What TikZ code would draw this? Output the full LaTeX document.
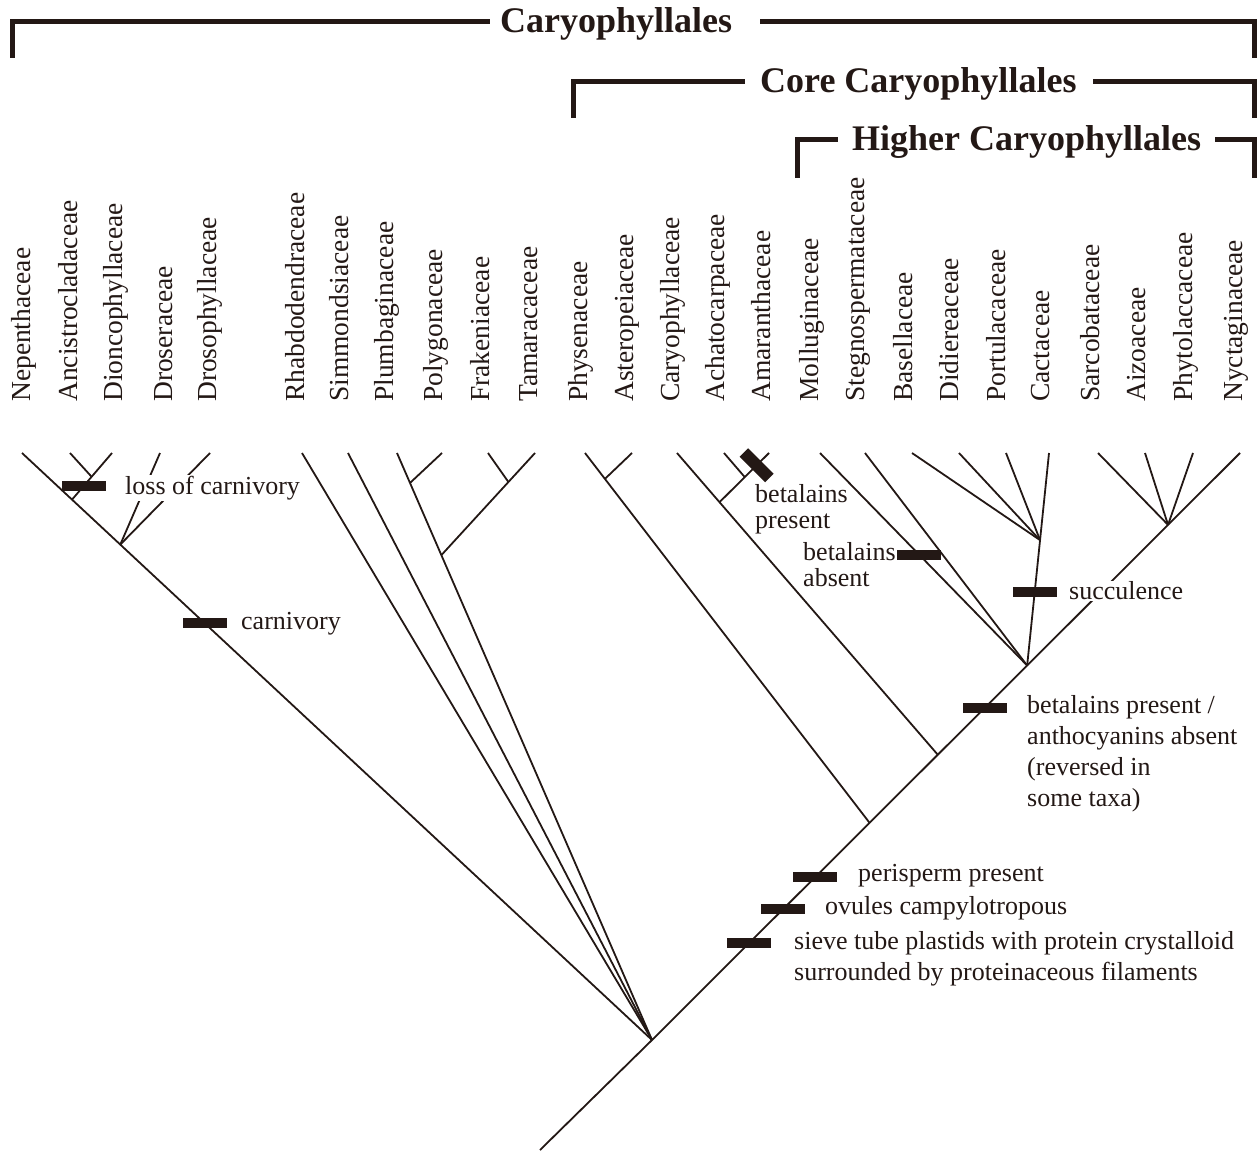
\documentclass[tikz,border=0pt]{standalone}
\usepackage{fontspec}
\setmainfont{Liberation Serif}
\usepackage{tikz}
\usetikzlibrary{calc}
\definecolor{ink}{HTML}{231815}
\tikzset{
  taxon/.style={rotate=90, anchor=mid west, inner sep=0pt, font=\fontsize{27.5}{30}\selectfont, text=ink},
  brn/.style={draw=ink, line width=1.8pt},
  chr/.style={fill=ink, minimum width=44pt, minimum height=10pt, inner sep=0pt},
  note/.style={font=\fontsize{26}{31}\selectfont, text=ink, align=left, inner sep=1pt},
  tight/.style={font=\fontsize{26}{26}\selectfont},
  clade/.style={font=\fontsize{36}{40}\selectfont\bfseries, text=ink, inner sep=0pt},
  brk/.style={draw=ink, line width=5pt},
}

\begin{document}
\begin{tikzpicture}[x=1pt, y=-1pt]
  \useasboundingbox (0,0) rectangle (1260,1155);
  % clade brackets
  \node[clade, anchor=base west] (tcar) at (500,33) {Caryophyllales};
  \node[clade, anchor=base west] (tcore) at (760,93) {Core Caryophyllales};
  \node[clade, anchor=base west] (thig) at (852,151) {Higher Caryophyllales};
  \coordinate (c1a) at (12,58);   \coordinate (c1b) at (490,22);
  \coordinate (c1c) at (760,22);  \coordinate (c1d) at (1254,58);
  \coordinate (c2a) at (573,118); \coordinate (c2b) at (745,82);
  \coordinate (c2c) at (1093,82); \coordinate (c2d) at (1254,118);
  \coordinate (c3a) at (797,178); \coordinate (c3b) at (838,140);
  \coordinate (c3c) at (1215,140);\coordinate (c3d) at (1254,178);
  \draw[brk] (c1a) |- (c1b);
  \draw[brk] (c1c) -| (c1d);
  \draw[brk] (c2a) |- (c2b);
  \draw[brk] (c2c) -| (c2d);
  \draw[brk] (c3a) |- (c3b);
  \draw[brk] (c3c) -| (c3d);
  % taxa
  \node[taxon] (lnep) at (28,402) {Nepenthaceae};
  \node[taxon] (lanc) at (75,402) {Ancistrocladaceae};
  \node[taxon] (ldio) at (120,402) {Dioncophyllaceae};
  \node[taxon] (ldrs) at (170,402) {Droseraceae};
  \node[taxon] (ldrp) at (214,402) {Drosophyllaceae};
  \node[taxon] (lrha) at (302,402) {Rhabdodendraceae};
  \node[taxon] (lsim) at (346,402) {Simmondsiaceae};
  \node[taxon] (lplu) at (391,402) {Plumbaginaceae};
  \node[taxon] (lpol) at (440,402) {Polygonaceae};
  \node[taxon] (lfra) at (487,402) {Frakeniaceae};
  \node[taxon] (ltam) at (535,402) {Tamaracaceae};
  \node[taxon] (lphy) at (585,402) {Physenaceae};
  \node[taxon] (last) at (631,402) {Asteropeiaceae};
  \node[taxon] (lcar) at (677,402) {Caryophyllaceae};
  \node[taxon] (lach) at (722,402) {Achatocarpaceae};
  \node[taxon] (lama) at (768,402) {Amaranthaceae};
  \node[taxon] (lmol) at (816,402) {Molluginaceae};
  \node[taxon] (lste) at (862,402) {Stegnospermataceae};
  \node[taxon] (lbas) at (910,402) {Basellaceae};
  \node[taxon] (ldid) at (956,402) {Didiereaceae};
  \node[taxon] (lpor) at (1003,402) {Portulacaceae};
  \node[taxon] (lcac) at (1047,402) {Cactaceae};
  \node[taxon] (lsar) at (1097,402) {Sarcobataceae};
  \node[taxon] (laiz) at (1143,402) {Aizoaceae};
  \node[taxon] (lpht) at (1190,402) {Phytolaccaceae};
  \node[taxon] (lnyc) at (1240,402) {Nyctaginaceae};
  % tips
  \coordinate (nep) at (22,453);  \coordinate (anc) at (70,453);
  \coordinate (dio) at (112,453); \coordinate (drs) at (160,453);
  \coordinate (drp) at (210,453); \coordinate (rha) at (302,453);
  \coordinate (sim) at (348,453); \coordinate (plu) at (397,453);
  \coordinate (pol) at (442,453); \coordinate (fra) at (488,453);
  \coordinate (tam) at (535,453); \coordinate (phy) at (585,453);
  \coordinate (ast) at (632,453); \coordinate (car) at (677,453);
  \coordinate (ach) at (724,453); \coordinate (ama) at (769,453);
  \coordinate (mol) at (820,453); \coordinate (ste) at (865,453);
  \coordinate (bas) at (912,453); \coordinate (did) at (959,453);
  \coordinate (por) at (1006,453);\coordinate (cac) at (1049,453);
  \coordinate (sar) at (1098,453);\coordinate (aiz) at (1145,453);
  \coordinate (pht) at (1193,453);\coordinate (nyc) at (1240,453);
  % internal nodes
  \coordinate (root) at (652,1040);
  \coordinate (base) at (540,1150);
  \coordinate (n1) at ($(nep)!0.156!(root)$);
  \coordinate (n2) at ($(nep)!0.0794!(root)$);
  \coordinate (n3) at ($(dio)!0.51!(n2)$);
  \coordinate (n4) at ($(plu)!0.051!(root)$);
  \coordinate (n5) at ($(plu)!0.174!(root)$);
  \coordinate (n6) at ($(tam)!0.284!(n5)$);
  \coordinate (t1) at ($(root)!0.37!(nyc)$);
  \coordinate (t2) at ($(root)!0.486!(nyc)$);
  \coordinate (hig) at ($(root)!0.638!(nyc)$);
  \coordinate (sn) at ($(root)!0.8776!(nyc)$);
  \coordinate (n7) at ($(phy)!0.07!(t1)$);
  \coordinate (n8) at ($(car)!0.163!(t2)$);
  \coordinate (n9) at ($(ama)!0.49!(n8)$);
  \coordinate (cn) at ($(cac)!0.41!(hig)$);
  % branches
  \draw[brn] (base) -- (root) -- (nyc);
  \draw[brn] (nep) -- (root);
  \draw[brn] (anc) -- (n3);
  \draw[brn] (dio) -- (n2);
  \draw[brn] (drs) -- (n1);
  \draw[brn] (drp) -- (n1);
  \draw[brn] (rha) -- (root);
  \draw[brn] (sim) -- (root);
  \draw[brn] (plu) -- (root);
  \draw[brn] (pol) -- (n4);
  \draw[brn] (fra) -- (n6);
  \draw[brn] (tam) -- (n5);
  \draw[brn] (phy) -- (t1);
  \draw[brn] (ast) -- (n7);
  \draw[brn] (car) -- (t2);
  \draw[brn] (ach) -- (n9);
  \draw[brn] (ama) -- (n8);
  \draw[brn] (mol) -- (hig);
  \draw[brn] (ste) -- (hig);
  \draw[brn] (cac) -- (hig);
  \draw[brn] (bas) -- (cn);
  \draw[brn] (did) -- (cn);
  \draw[brn] (por) -- (cn);
  \draw[brn] (sar) -- (sn);
  \draw[brn] (aiz) -- (sn);
  \draw[brn] (pht) -- (sn);
  % character labels
  \node[note, fill=white, anchor=west] (nloss) at (124,488) {loss of carnivory};
  \node[note, anchor=west] (ncarn) at (240,624) {carnivory};
  \node[note, tight, anchor=north west] (nama) at (754,483) {betalains\\present};
  \node[note, tight, anchor=north west] (nmol) at (802,541) {betalains\\absent};
  \node[note, fill=white, anchor=west] (nsuc) at (1068,591) {succulence};
  \node[note, anchor=north west] (nbet) at (1026,694) {betalains present /\\anthocyanins absent\\(reversed in\\some taxa)};
  \node[note, anchor=west] (nper) at (857,876) {perisperm present};
  \node[note, anchor=west] (novu) at (824,908) {ovules campylotropous};
  \node[note, anchor=north west] (nsie) at (793,930) {sieve tube plastids with protein crystalloid\\surrounded by proteinaceous filaments};
  % character bars
  \node[chr] (bloss) at ($(dio)!0.7!(n2)$) {};
  \node[chr] (bcarn) at ($(nep)!0.29!(root)$) {};
  \node[chr, minimum width=36pt, minimum height=12pt, rotate=-45] (bama) at ($(ama)!0.25!(n8)$) {};
  \node[chr] (bmol) at ($(mol)!0.48!(hig)$) {};
  \node[chr] (bsuc) at ($(cac)!0.655!(hig)$) {};
  \node[chr] (bbet) at ($(root)!0.566!(nyc)$) {};
  \node[chr] (bper) at ($(root)!0.277!(nyc)$) {};
  \node[chr] (bovu) at ($(root)!0.223!(nyc)$) {};
  \node[chr] (bsie) at ($(root)!0.165!(nyc)$) {};
\end{tikzpicture}
\end{document}
